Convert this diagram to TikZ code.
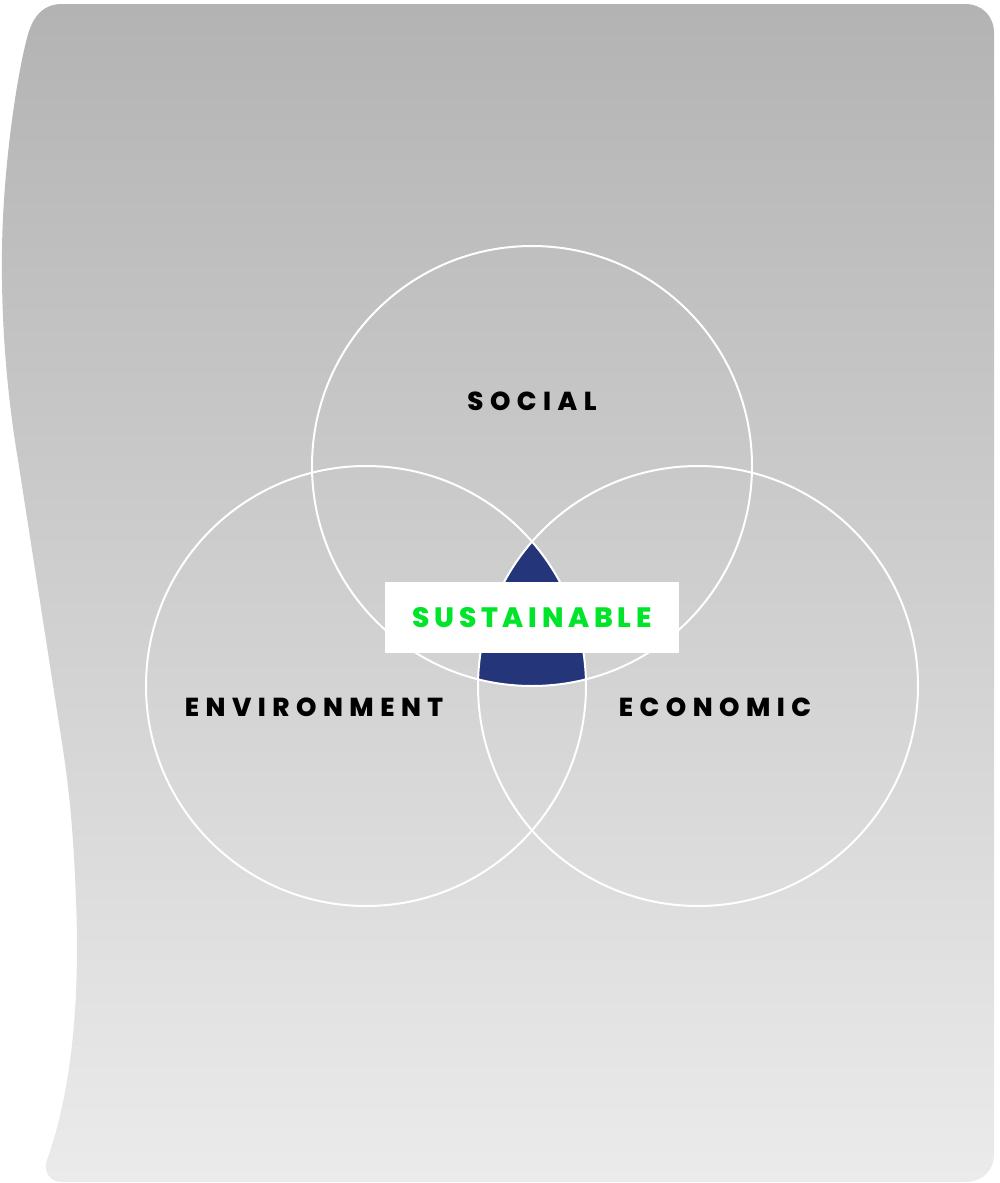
\documentclass[tikz,border=0pt]{standalone}
\usepackage{fontspec}
\newfontfamily\pillarfont{Poppins}[LetterSpace=25,BoldFont={* ExtraBold}]
\newfontfamily\corefont{Poppins}[LetterSpace=17,BoldFont={* ExtraBold}]
\definecolor{panelTop}{RGB}{179,179,179}
\definecolor{panelBottom}{RGB}{235,235,235}
\definecolor{coreBlue}{RGB}{36,53,122}
\definecolor{coreGreen}{RGB}{0,229,42}
\begin{document}
\begin{tikzpicture}[x=1pt,y=-1pt,
    pillar/.style={draw=white,line width=2pt},
    pillarlabel/.style={font=\pillarfont\bfseries\fontsize{26}{28}\selectfont,text=black,inner sep=0pt}]
        \useasboundingbox (0,0) rectangle (999,1183);

        % Background panel (wavy left edge)
        \shade[top color=panelTop,bottom color=panelBottom] (62,4) -- (965,4)
                     .. controls (982,4) and (994,16) .. (994,33) -- (994,1155)
                     .. controls (994,1170) and (982,1182) .. (966,1182) -- (62,1182)
                     .. controls (50,1182) and (43,1172) .. (47,1160)
                     .. controls (72,1090) and (80,1000) .. (76,900)
                     .. controls (73,820) and (68,780) .. (60,730) -- (18,460)
                     .. controls (8,400) and (1,330) .. (2,250)
                     .. controls (3,170) and (16,80) .. (27,38)
                     .. controls (32,18) and (42,4) .. (62,4) -- cycle;

        % Circle centres
        \coordinate (social) at (532,466);
        \coordinate (environment) at (366,686);
        \coordinate (economic) at (698,686);

        % Common overlap
        \begin{scope}
            \clip (social) circle[radius=220];
            \clip (environment) circle[radius=220];
            \fill[coreBlue] (economic) circle[radius=220];
        \end{scope}

        % Circles
        \draw[pillar] (social) circle[radius=220];
        \draw[pillar] (environment) circle[radius=220];
        \draw[pillar] (economic) circle[radius=220];

        % Labels
        \node[pillarlabel] (socialLabel) at (532,401) {SOCIAL};
        \node[pillarlabel] (environmentLabel) at (314,707) {ENVIRONMENT};
        \node[pillarlabel] (economicLabel) at (715,707) {ECONOMIC};
        \node[fill=white,minimum width=294pt,minimum height=71pt,inner sep=0pt,
              font=\corefont\bfseries\fontsize{28}{30}\selectfont,text=coreGreen] (core) at (532,617.5) {SUSTAINABLE};
    \end{tikzpicture}
\end{document}
